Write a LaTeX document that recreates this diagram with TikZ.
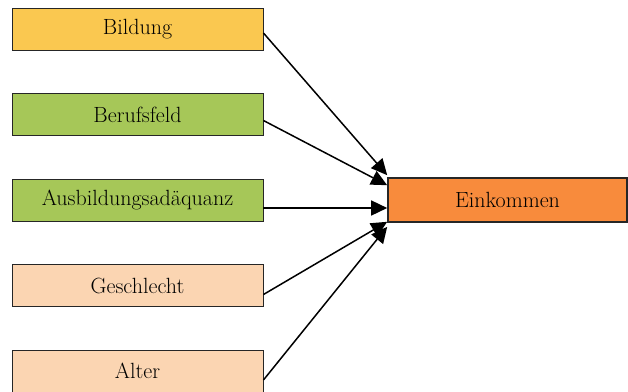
\documentclass[tikz,border=0pt]{standalone}
\usepackage{fontspec}
\usetikzlibrary{arrows.meta}
\definecolor{gelb}{RGB}{250,200,80}
\definecolor{gruen}{RGB}{166,199,88}
\definecolor{pfirsich}{RGB}{251,213,178}
\definecolor{orange}{RGB}{248,139,60}
\tikzset{
	box/.style={draw=black!85,line width=0.9pt,minimum width=251pt,minimum height=42pt,inner sep=0pt,font=\fontsize{22}{25}\selectfont},
	pfeil/.style={-{Triangle[length=16pt,width=15pt]},line width=1.5pt}
}
\begin{document}
\begin{tikzpicture}[x=1pt,y=-1pt]
		\useasboundingbox (0,0) rectangle (628,391);
		\clip (0,0) rectangle (628,391);
		\node[box,fill=gelb] (bildung) at (137.5,29) {Bildung};
		\node[box,fill=gruen] (beruf) at (137.5,114.5) {Berufsfeld};
		\node[box,fill=gruen] (adaeq) at (137.5,200) {Ausbildungsadäquanz};
		\node[box,fill=pfirsich] (geschlecht) at (137.5,285.5) {Geschlecht};
		\node[box,fill=pfirsich] (alter) at (137.5,371) {Alter};
		\node[box,fill=orange,minimum width=239pt,minimum height=44pt,line width=1.6pt] (ein) at (507.5,200) {Einkommen};
		\draw[pfeil] ([yshift=-4pt]bildung.east)--([yshift=2pt]ein.north west);
		\draw[pfeil] ([yshift=-6pt]beruf.east)--([yshift=-8pt]ein.north west);
		\draw[pfeil] ([yshift=-8pt]adaeq.east)--([yshift=-8pt]ein.west);
		\draw[pfeil] ([yshift=-9pt]geschlecht.east)--([yshift=1pt]ein.south west);
		\draw[pfeil] ([yshift=-9pt]alter.east)--([yshift=-4pt]ein.south west);
		\end{tikzpicture}
\end{document}
